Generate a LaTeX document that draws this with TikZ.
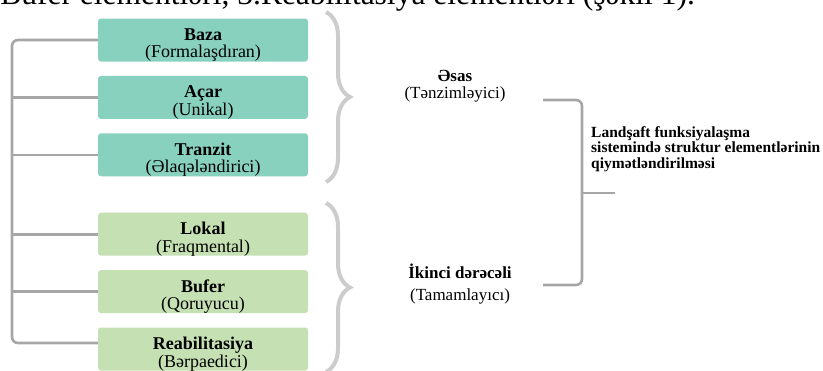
\documentclass[tikz,border=0pt]{standalone}
\usepackage{fontspec}
\setmainfont{Liberation Serif}
\usepackage{xcolor}
\usetikzlibrary{positioning,decorations.pathreplacing}

\definecolor{tealbox}{RGB}{137,209,191}
\definecolor{greenbox}{RGB}{197,224,179}
\definecolor{linegray}{RGB}{166,166,166}
\definecolor{bracegray}{RGB}{204,204,204}

% title + subtitle of an element box, set a little below the middle
\newcommand{\elemtext}[2]{\raisebox{-10pt}[0pt][0pt]{\begin{tabular}{@{}c@{}}\textbf{#1}\\#2\end{tabular}}}

\begin{document}
\begin{tikzpicture}[
  x=1pt, y=-1pt,
  node distance=14pt,
  elem/.style={rounded corners=3pt, minimum height=43pt, minimum width=210pt, inner sep=0pt,
               font=\fontsize{18}{17}\selectfont},
  basic/.style={elem, fill=tealbox},
  second/.style={elem, fill=greenbox},
  conn/.style={draw=linegray, line width=2.6pt, rounded corners=6pt},
  curly/.style={draw=bracegray, line width=4pt, decorate, decoration={brace, amplitude=24pt}},
  label/.style={align=center, font=\fontsize{17}{20}\selectfont}
]
\useasboundingbox (0,0) rectangle (823,370);
\clip (0,0) rectangle (823,370);

% caption line cut off at the top
\node[anchor=base east, inner sep=0pt, font=\fontsize{31.5}{33}\selectfont] (caption) at (695,4)
  {Bufer elementləri, 3.Reabilitasiya elementləri (şəkil 1).};

% element boxes
\node[basic] (baza) at (203,40) {\elemtext{Baza}{(Formalaşdıran)}};
\node[basic, below=of baza] (acar) {\elemtext{Açar}{(Unikal)}};
\node[basic, below=of acar] (tranzit) {\elemtext{Tranzit}{(Əlaqələndirici)}};
\node[second, below=36pt of tranzit] (lokal) {\elemtext{Lokal}{(Fraqmental)}};
\node[second, below=of lokal] (bufer) {\elemtext{Bufer}{(Qoruyucu)}};
\node[second, below=of bufer] (reab) {\elemtext{Reabilitasiya}{(Bərpaedici)}};

% left tree
\coordinate (spine) at (12,0);
\coordinate (reabin) at ([yshift=6pt]reab.west);
\draw[conn] (baza.west) -| (spine |- reabin) -- (reabin);
\foreach \b in {acar,tranzit,lokal,bufer}
  \draw[conn, rounded corners=0pt] (spine |- \b.west) -- (\b.west);

% braces
\coordinate (b1top) at (326,12);
\coordinate (b1bot) at (326,182);
\coordinate (b2top) at (326,203);
\coordinate (b2bot) at (326,372);
\draw[curly] (b1top) -- (b1bot);
\draw[curly] (b2top) -- (b2bot);

% group labels
\node[label, font=\fontsize{17}{16.5}\selectfont] (esas) at (455,86) {\textbf{Əsas}\\(Tənzimləyici)};
\node[label, font=\fontsize{17}{22}\selectfont] (ikinci) at (460,284) {\textbf{İkinci dərəcəli}\\(Tamamlayıcı)};

% right bracket
\node[anchor=north west, inner sep=0pt, align=left, font=\bfseries\fontsize{15.5}{15.5}\selectfont] (result) at (591,126)
  { Landşaft funksiyalaşma\\sistemində struktur elementlərinin\\qiymətləndirilməsi};
\coordinate (rtop) at (543,100);
\coordinate (rbot) at (543,285);
\coordinate (rmid) at (582,193);
\coordinate (rstub) at (615,193);
\draw[conn] (rtop) -| (rmid |- rbot) -- (rbot);
\draw[conn, rounded corners=0pt] (rmid) -- (rstub);

\end{tikzpicture}
\end{document}
